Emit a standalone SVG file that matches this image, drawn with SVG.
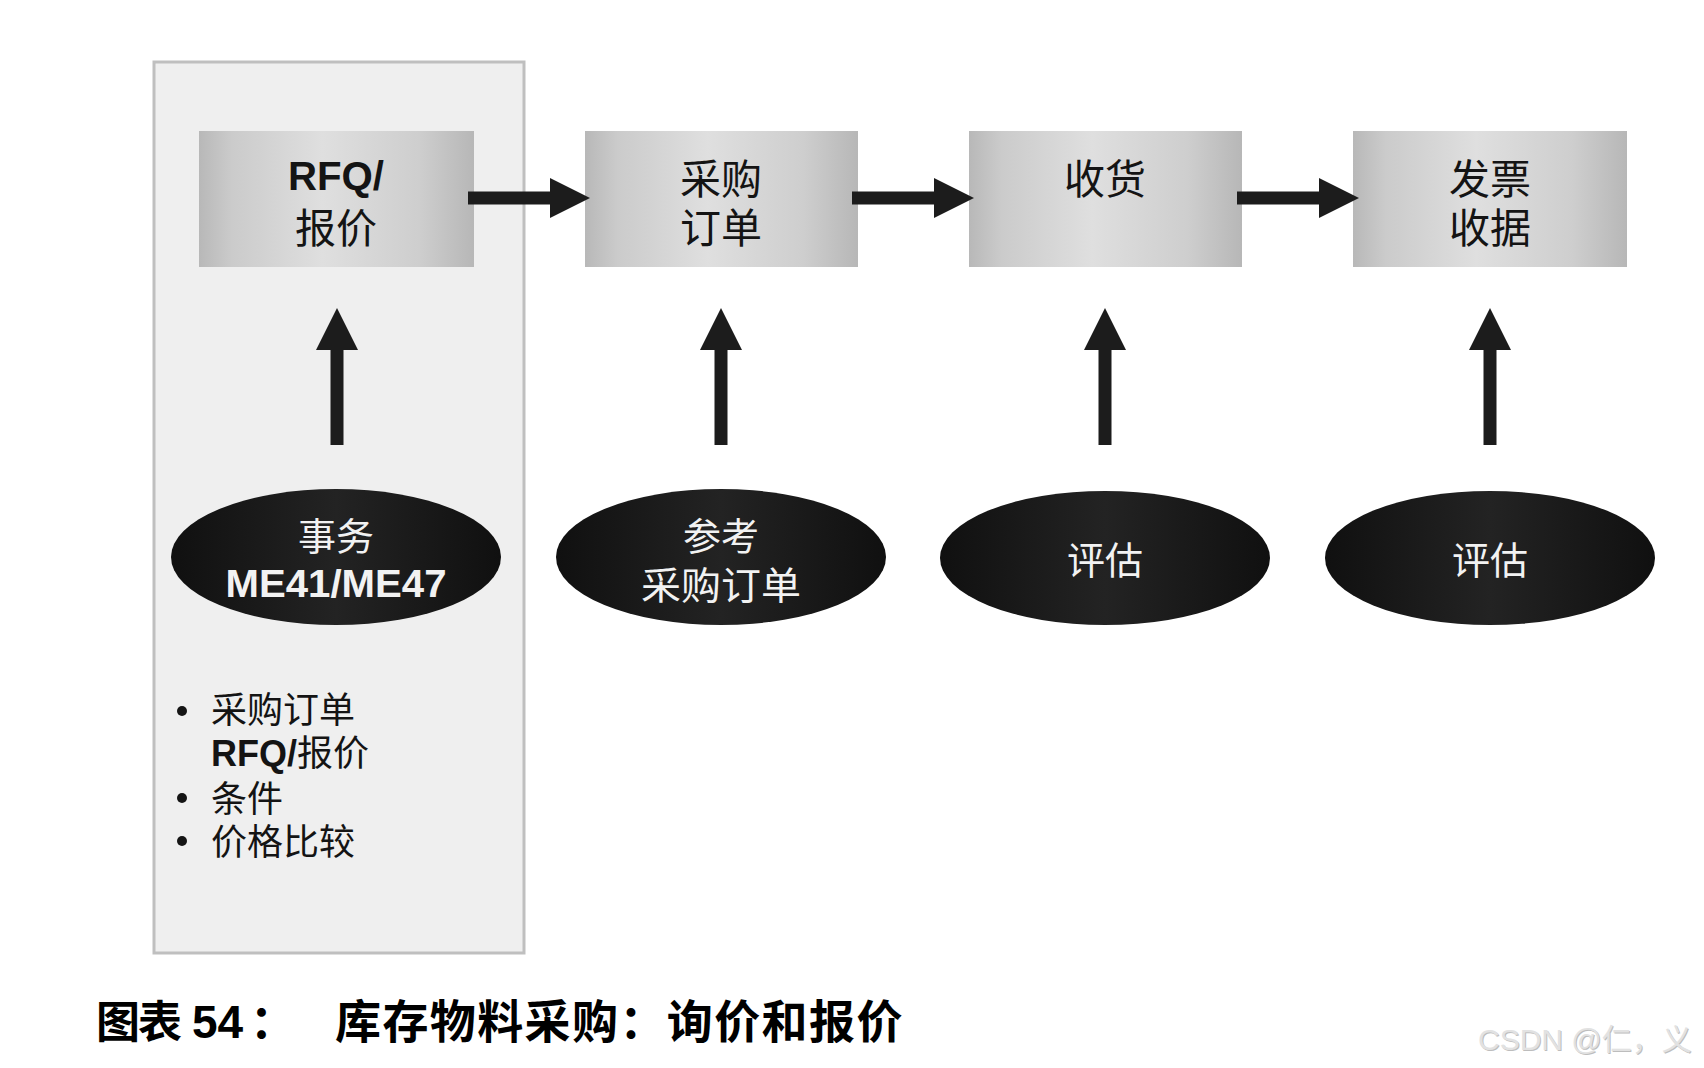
<svg xmlns="http://www.w3.org/2000/svg" width="1704" height="1068" viewBox="0 0 1704 1068">
  <defs>
    <linearGradient id="boxFill" x1="0" y1="0" x2="1" y2="0">
      <stop offset="0" stop-color="#b8b8b8"/>
      <stop offset="0.12" stop-color="#cbcbcb"/>
      <stop offset="0.45" stop-color="#dfdfdf"/>
      <stop offset="0.8" stop-color="#cecece"/>
      <stop offset="1" stop-color="#b7b7b7"/>
    </linearGradient>
    <linearGradient id="ovalFill" x1="0" y1="0" x2="1" y2="0">
      <stop offset="0" stop-color="#101010"/>
      <stop offset="0.5" stop-color="#232323"/>
      <stop offset="1" stop-color="#101010"/>
    </linearGradient>
    <!-- horizontal flow arrow, tail at origin, pointing right -->
    <path id="arrowRight" d="M0,-6.5 H82 V-20 L122,0 L82,20 V6.5 H0 Z"/>
    <!-- vertical feed arrow, tip at origin, pointing up -->
    <path id="arrowUp" d="M0,0 L21,42 H6.5 V137 H-6.5 V42 H-21 Z"/>
  </defs>
  <style>
    .step { fill: url(#boxFill); }
    .oval { fill: url(#ovalFill); }
    .arrow { fill: #1c1c1c; }
    .cjk { font-family: "Noto Sans CJK SC", sans-serif; }
    .lat { font-family: "Liberation Sans", Arial, "Noto Sans CJK SC", sans-serif; font-weight: bold; }
    .box-t { font-size: 41px; fill: #141414; text-anchor: middle; }
    .oval-t { font-size: 38px; fill: #f2f2f2; text-anchor: middle; }
    .list-t { font-size: 36px; fill: #141414; }
  </style>

  <rect width="1704" height="1068" fill="#ffffff"/>

  <!-- shaded panel around the quotation stage -->
  <rect id="panel" x="154" y="62" width="370" height="891" fill="#efefef" stroke="#bfbfbf" stroke-width="3"/>

  <!-- process steps -->
  <g id="step-rfq">
    <rect class="step" x="199" y="131" width="275" height="136"/>
    <text class="lat box-t" x="336" y="190" textLength="96" lengthAdjust="spacingAndGlyphs">RFQ/</text>
    <text class="cjk box-t" x="336" y="243">报价</text>
  </g>
  <g id="step-po">
    <rect class="step" x="585" y="131" width="273" height="136"/>
    <text class="cjk box-t" x="721" y="194">采购</text>
    <text class="cjk box-t" x="721" y="243">订单</text>
  </g>
  <g id="step-gr">
    <rect class="step" x="969" y="131" width="273" height="136"/>
    <text class="cjk box-t" x="1105" y="194">收货</text>
  </g>
  <g id="step-invoice">
    <rect class="step" x="1353" y="131" width="274" height="136"/>
    <text class="cjk box-t" x="1490" y="194">发票</text>
    <text class="cjk box-t" x="1490" y="243">收据</text>
  </g>

  <!-- transactions / functions feeding each step -->
  <g id="oval-me41">
    <ellipse class="oval" cx="336" cy="557" rx="165" ry="68"/>
    <text class="cjk oval-t" x="336" y="550">事务</text>
    <text class="lat oval-t" x="336" y="597" font-size="42" textLength="221" lengthAdjust="spacingAndGlyphs">ME41/ME47</text>
  </g>
  <g id="oval-ref">
    <ellipse class="oval" cx="721" cy="557" rx="165" ry="68"/>
    <text class="cjk oval-t" x="721" y="550">参考</text>
    <text class="cjk oval-t" x="721" y="599" font-size="40" textLength="160" lengthAdjust="spacingAndGlyphs">采购订单</text>
  </g>
  <g id="oval-eval-gr">
    <ellipse class="oval" cx="1105" cy="558" rx="165" ry="67"/>
    <text class="cjk oval-t" x="1105" y="574">评估</text>
  </g>
  <g id="oval-eval-iv">
    <ellipse class="oval" cx="1490" cy="558" rx="165" ry="67"/>
    <text class="cjk oval-t" x="1490" y="574">评估</text>
  </g>

  <!-- connectors -->
  <g id="connectors" class="arrow">
    <use href="#arrowRight" x="468" y="198"/>
    <use href="#arrowRight" x="852" y="198"/>
    <use href="#arrowRight" x="1237" y="198"/>
    <use href="#arrowUp" x="337" y="308"/>
    <use href="#arrowUp" x="721" y="308"/>
    <use href="#arrowUp" x="1105" y="308"/>
    <use href="#arrowUp" x="1490" y="308"/>
  </g>

  <!-- functions available in the quotation stage -->
  <g id="function-list">
    <circle cx="182" cy="711" r="5" fill="#141414"/>
    <circle cx="182" cy="798" r="5" fill="#141414"/>
    <circle cx="182" cy="841" r="5" fill="#141414"/>
    <text class="cjk list-t" x="211" y="723">采购订单</text>
    <text class="list-t" x="211" y="766"><tspan class="lat">RFQ/</tspan><tspan class="cjk">报价</tspan></text>
    <text class="cjk list-t" x="211" y="812">条件</text>
    <text class="cjk list-t" x="211" y="855">价格比较</text>
  </g>

  <!-- figure caption -->
  <g id="caption" fill="#000000" font-weight="bold">
    <text class="cjk" x="96" y="1038" font-size="44" letter-spacing="-2">图表</text>
    <text class="lat" x="192" y="1038" font-size="46">54</text>
    <text class="cjk" x="250" y="1038" font-size="46">：</text>
    <text class="cjk" x="335" y="1038" font-size="46" letter-spacing="1.4">库存物料采购：询价和报价</text>
  </g>

  <!-- watermark -->
  <g id="watermark" font-family="'Liberation Sans', Arial, 'Noto Sans CJK SC', sans-serif" font-size="30">
    <text x="1479" y="1051" fill="#bdbdbd">CSDN @仁，义</text>
    <text x="1478" y="1050" fill="#e2e2e2">CSDN @仁，义</text>
  </g>
</svg>
